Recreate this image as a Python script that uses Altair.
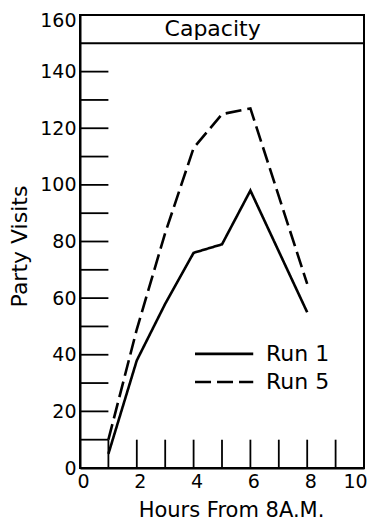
import altair as alt
import pandas as pd

hours = [1, 2, 3, 4, 5, 6, 8]
run1 = [5, 38, 58, 76, 79, 98, 55]
run5 = [10, 49, 83, 113, 125, 127, 65]
series_names = ["Run 1", "Run 5"]
x_label_values = [0, 2, 4, 6, 8, 10]
y_label_values = [0, 20, 40, 60, 80, 100, 120, 140, 160]
x_tick_values = [1, 2, 3, 4, 5, 6, 7, 8, 9]
y_tick_values = [10, 20, 30, 40, 50, 60, 70, 80, 90, 100, 110, 120, 130, 140]
capacity = 150

FONT = "DejaVu Sans"

df = pd.DataFrame(
    {"x": hours * 2, "y": run1 + run5, "run": ["Run 1"] * len(hours) + ["Run 5"] * len(hours)}
)

xs = alt.Scale(domain=[0, 10], nice=False)
ys = alt.Scale(domain=[0, 160], nice=False)

dash = alt.StrokeDash(
    "run:N",
    scale=alt.Scale(domain=series_names, range=[[1, 0], [16, 6]]),
    legend=None,
)

lines = alt.Chart(df).mark_line(color="black", strokeWidth=2.6).encode(
    x=alt.X(
        "x:Q",
        scale=xs,
        axis=alt.Axis(
            values=x_label_values,
            labelFlush=False,
            labelOffset={"condition": {"test": "datum.value == 10", "value": -9}, "value": 3},
            title="Hours  From 8A.M.",
            titleX=151,
            titleY=31,
            titleBaseline="top",
            titleFontSize=21,
            titleFont=FONT,
            titleFontWeight="normal",
            titleColor="black",
        ),
    ),
    y=alt.Y(
        "y:Q",
        scale=ys,
        axis=alt.Axis(
            values=y_label_values,
            labelFlush=False,
            labelOffset={"condition": {"test": "datum.value == 160", "value": 5}, "value": 0},
            title="Party Visits",
            titleX=-49,
            titleY=231,
            titleBaseline="bottom",
            titleFontSize=22,
            titleFont=FONT,
            titleFontWeight="normal",
            titleColor="black",
        ),
    ),
    strokeDash=dash,
    detail="run:N",
)

xt = pd.DataFrame({"x": x_tick_values, "y0": 0, "y1": 10})
xticks = alt.Chart(xt).mark_rule(color="black", strokeWidth=1.8).encode(
    x=alt.X("x:Q", scale=xs), y=alt.Y("y0:Q", scale=ys), y2="y1:Q"
)

yt = pd.DataFrame({"y": y_tick_values, "x0": 0, "x1": 1})
yticks = alt.Chart(yt).mark_rule(color="black", strokeWidth=1.8).encode(
    y=alt.Y("y:Q", scale=ys), x=alt.X("x0:Q", scale=xs), x2="x1:Q"
)

cap_df = pd.DataFrame({"x0": [0], "x1": [10], "y": [capacity], "tx": [4.67], "ty": [155], "label": ["Capacity"]})
cap_rule = alt.Chart(cap_df).mark_rule(color="black", strokeWidth=2).encode(
    y=alt.Y("y:Q", scale=ys), x=alt.X("x0:Q", scale=xs), x2="x1:Q"
)
cap_text = alt.Chart(cap_df).mark_text(
    font=FONT, fontSize=22, color="black", baseline="middle", align="center"
).encode(x=alt.X("tx:Q", scale=xs), y=alt.Y("ty:Q", scale=ys), text="label:N")

leg_df = pd.DataFrame(
    {
        "run": series_names,
        "x0": [4.05, 4.05],
        "x1": [6.1, 6.1],
        "y": [40.3, 30.4],
        "tx": [6.55, 6.55],
    }
)
leg_lines = alt.Chart(leg_df).mark_rule(color="black", strokeWidth=2.6).encode(
    x=alt.X("x0:Q", scale=xs), x2="x1:Q", y=alt.Y("y:Q", scale=ys), strokeDash=dash
)
leg_text = alt.Chart(leg_df).mark_text(
    font=FONT, fontSize=22, color="black", align="left", baseline="middle"
).encode(x=alt.X("tx:Q", scale=xs), y=alt.Y("y:Q", scale=ys), text="run:N")

chart = (
    alt.layer(lines, xticks, yticks, cap_rule, cap_text, leg_lines, leg_text)
    .properties(
        width=284,
        height=453,
        autosize=alt.AutoSizeParams(type="none"),
        padding={"left": 72, "top": 7, "right": 6, "bottom": 52},
    )
    .configure_view(stroke="black", strokeWidth=2)
    .configure_axis(
        grid=False,
        ticks=False,
        domainColor="black",
        domainWidth=2,
        labelFont=FONT,
        labelFontSize=19,
        labelColor="black",
        labelPadding=4,
    )
)

chart.save("out.html", embed_options={"renderer": "svg", "actions": False})
